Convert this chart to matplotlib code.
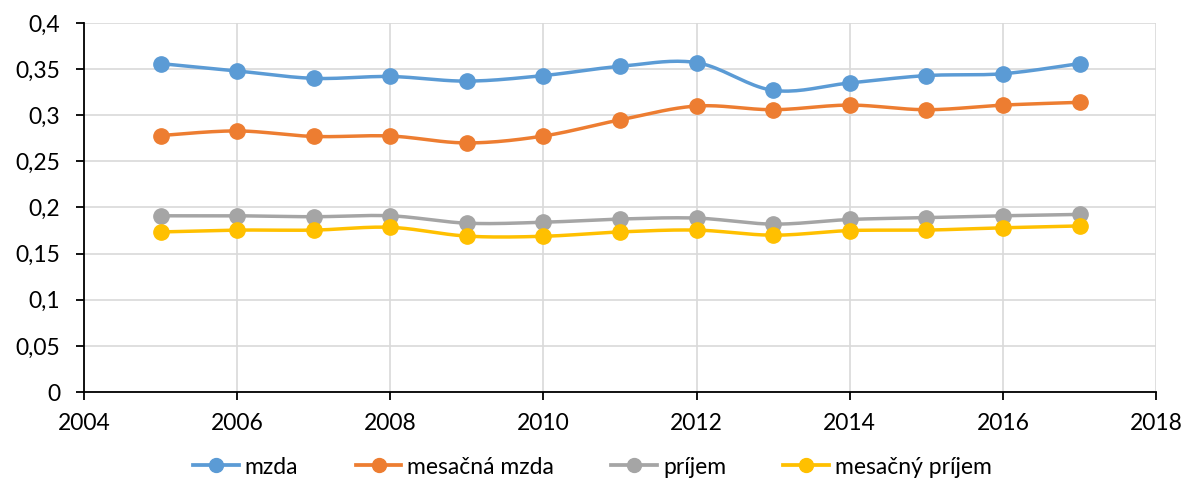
import numpy as np
import matplotlib
matplotlib.use("Agg")
import matplotlib.pyplot as plt
from matplotlib.ticker import FuncFormatter, MultipleLocator

years = [2005, 2006, 2007, 2008, 2009, 2010, 2011, 2012, 2013, 2014, 2015, 2016, 2017]
mzda = [0.356, 0.348, 0.340, 0.342, 0.337, 0.343, 0.353, 0.357, 0.327, 0.335, 0.343, 0.345, 0.356]
mesacna_mzda = [0.278, 0.283, 0.277, 0.2775, 0.270, 0.2775, 0.295, 0.310, 0.306, 0.311, 0.306, 0.311, 0.314]
prijem = [0.191, 0.191, 0.190, 0.191, 0.183, 0.184, 0.1875, 0.1885, 0.182, 0.187, 0.189, 0.191, 0.1925]
mesacny_prijem = [0.1735, 0.1755, 0.1755, 0.1785, 0.169, 0.1688, 0.1735, 0.1755, 0.170, 0.175, 0.1755, 0.178, 0.180]

labels = ["mzda", "mesačná mzda", "príjem", "mesačný príjem"]
colors = ["#5B9BD5", "#ED7D31", "#A5A5A5", "#FFC000"]
series = [mzda, mesacna_mzda, prijem, mesacny_prijem]

plt.rcParams['font.family'] = ['Lato', 'DejaVu Sans']


def smooth(x, y, n=20):
    # Catmull-Rom style Bezier smoothing (Excel "smoothed line")
    x = np.asarray(x, float)
    y = np.asarray(y, float)
    px, py = [], []
    m = len(x)
    for i in range(m - 1):
        x0, y0 = (x[i - 1], y[i - 1]) if i > 0 else (x[i], y[i])
        x1, y1 = x[i], y[i]
        x2, y2 = x[i + 1], y[i + 1]
        x3, y3 = (x[i + 2], y[i + 2]) if i + 2 < m else (x2, y2)
        c1x, c1y = x1 + (x2 - x0) / 6, y1 + (y2 - y0) / 6
        c2x, c2y = x2 - (x3 - x1) / 6, y2 - (y3 - y1) / 6
        t = np.linspace(0, 1, n, endpoint=(i == m - 2))
        b0 = (1 - t) ** 3
        b1 = 3 * (1 - t) ** 2 * t
        b2 = 3 * (1 - t) * t ** 2
        b3 = t ** 3
        px.extend(b0 * x1 + b1 * c1x + b2 * c2x + b3 * x2)
        py.extend(b0 * y1 + b1 * c1y + b2 * c2y + b3 * y2)
    return np.array(px), np.array(py)


fig = plt.figure(figsize=(11.85, 4.83), dpi=100)
ax = fig.add_axes([0.0709, 0.1884, 0.9047, 0.7640])

handles = []
for s, c, lab in zip(series, colors, labels):
    sx, sy = smooth(years, s)
    ax.plot(sx, sy, color=c, lw=2.5, solid_capstyle='round', zorder=3)
    ax.plot(years, s, 'o', color=c, ms=11, zorder=4)
    h, = ax.plot([], [], color=c, lw=2.7, marker='o', ms=10, label=lab)
    handles.append(h)

ax.set_xlim(2004, 2018)
ax.set_ylim(0, 0.4)
ax.xaxis.set_major_locator(MultipleLocator(2))
ax.yaxis.set_major_locator(MultipleLocator(0.05))
ax.yaxis.set_major_formatter(FuncFormatter(lambda v, p: ("%g" % round(v, 3)).replace('.', ',')))
ax.grid(True, color="#D9D9D9", lw=1.2, zorder=0)
ax.set_axisbelow(True)
for sp in ['top', 'right']:
    ax.spines[sp].set_visible(False)
for sp in ['left', 'bottom']:
    ax.spines[sp].set_color('black')
    ax.spines[sp].set_linewidth(1.3)
ax.tick_params(axis='both', direction='out', length=6, width=1.3, color='black',
               labelsize=16.5)
ax.tick_params(axis='y', pad=11)
ax.tick_params(axis='x', pad=9)

fig.legend(handles=handles, loc='center', bbox_to_anchor=(0.5, 1 - 467 / 483),
           ncol=4, frameon=False, fontsize=16.5, handlelength=2.0,
           columnspacing=2.5, handletextpad=0.25)

fig.savefig("out.png", dpi=100)
